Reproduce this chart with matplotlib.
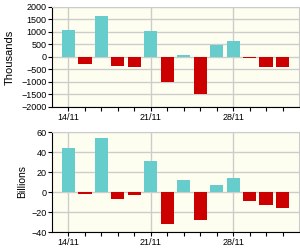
import matplotlib.pyplot as plt
import numpy as np

# trading days 14/11 .. 1/12
days = ['14/11', '15/11', '16/11', '17/11', '18/11', '21/11', '22/11',
        '23/11', '24/11', '25/11', '28/11', '29/11', '30/11', '01/12']
thousands = [1070, -280, 1640, -370, -410, 1030, -1000,
             65, -1490, 480, 630, -30, -415, -415]
billions = [44.4, -1.7, 54.5, -6.7, -2.7, 31.3, -31.9,
            12.1, -27.9, 7.1, 14.1, -9.1, -12.8, -15.8]
date_labels = {0: '14/11', 5: '21/11', 10: '28/11'}

pos_col = '#66CCCC'
neg_col = '#CC0000'
bg = '#FEFEF0'
grid_col = '#CCCCCC'

plt.rcParams['font.family'] = ['Liberation Sans', 'DejaVu Sans']

fig = plt.figure(figsize=(3, 2.5), dpi=100)
ax1 = fig.add_axes([52/300, 1-107/250, 247/300, 100/250])
ax2 = fig.add_axes([52/300, 1-232/250, 247/300, 100/250])


def draw(ax, vals, ylim, yticks):
    x = np.arange(len(vals))
    cols = [pos_col if v >= 0 else neg_col for v in vals]
    ax.set_facecolor(bg)
    ax.bar(x, vals, width=0.8, color=cols, zorder=3)
    ax.set_xlim(-1, len(vals))
    ax.set_ylim(*ylim)
    ax.set_yticks(yticks)
    ax.set_xticks(x)
    ax.set_xticklabels([date_labels.get(i, '') for i in x])
    ax.tick_params(labelsize=6.5, length=3, width=0.8, pad=1)
    ax.yaxis.grid(True, color=grid_col, lw=1, zorder=0)
    for i in date_labels:
        ax.axvline(i, color=grid_col, lw=1, zorder=0)
    for s in ['top', 'right']:
        ax.spines[s].set_color(grid_col)
    for s in ['left', 'bottom']:
        ax.spines[s].set_color('black')
        ax.spines[s].set_linewidth(0.8)


draw(ax1, thousands, (-2000, 2000), np.arange(-2000, 2001, 500))
draw(ax2, billions, (-40, 60), np.arange(-40, 61, 20))

fig.text(10/300, 1-57/250, 'Thousands', rotation=90, ha='center', va='center', fontsize=8)
fig.text(22/300, 1-182/250, 'Billions', rotation=90, ha='center', va='center', fontsize=7.5)

fig.savefig('out.png', dpi=100)
